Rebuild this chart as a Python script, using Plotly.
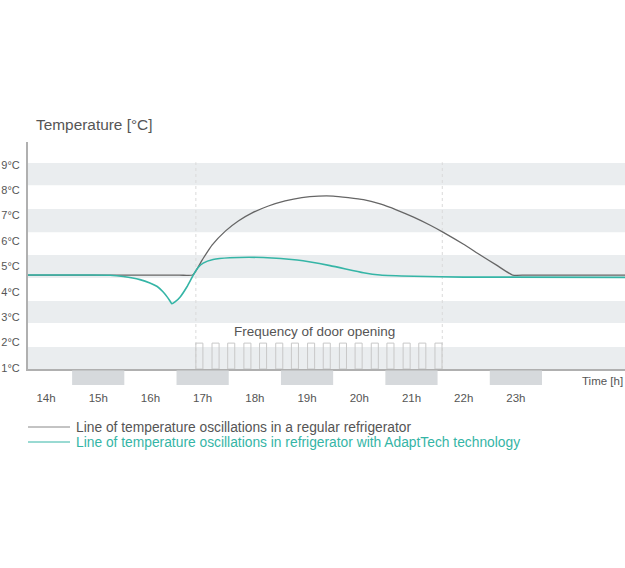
import plotly.graph_objects as go

# ---------------- data ----------------
hour_ticks = [14, 15, 16, 17, 18, 19, 20, 21, 22, 23]
hour_labels = ["14h", "15h", "16h", "17h", "18h", "19h", "20h", "21h", "22h", "23h"]
temp_ticks = [1, 2, 3, 4, 5, 6, 7, 8, 9]
temp_labels = ["1°C", "2°C", "3°C", "4°C", "5°C", "6°C", "7°C", "8°C", "9°C"]

regular_t = [13.65, 16.55, 16.81, 16.99, 17.18, 17.44, 17.69, 17.94, 18.26, 18.58,
             18.90, 19.22, 19.50, 20.08, 20.40, 20.72, 21.04, 21.36, 21.61, 21.99,
             22.31, 22.63, 22.94, 23.20, 25.10]
regular_v = [4.66, 4.66, 4.66, 5.25, 5.84, 6.40, 6.80, 7.10, 7.38, 7.58,
             7.71, 7.77, 7.77, 7.63, 7.46, 7.22, 6.94, 6.62, 6.34, 5.88,
             5.46, 5.05, 4.66, 4.66, 4.66]

adapt_t = [13.65, 14.84, 15.23, 15.48, 15.80, 15.99, 16.13, 16.24, 16.32, 16.38,
           16.41, 16.47, 16.57, 16.70, 16.82, 16.91, 17.01, 17.20, 17.52, 18.16,
           18.81, 19.44, 20.08, 20.40, 21.04, 22.00, 25.10]
adapt_v = [4.66, 4.66, 4.65, 4.60, 4.48, 4.35, 4.21, 4.00, 3.80, 3.62,
           3.53, 3.60, 3.80, 4.20, 4.66, 4.95, 5.13, 5.27, 5.34, 5.35,
           5.25, 5.03, 4.75, 4.66, 4.61, 4.58, 4.57]

door_open_t = [16.87, 17.18, 17.48, 17.79, 18.09, 18.40, 18.70, 19.01,
               19.31, 19.62, 19.92, 20.23, 20.53, 20.84, 21.14, 21.45]
door_open_len = 0.135
door_level = 1.98
door_window = [16.87, 21.59]

band_edges = [(0.96, 1.83), (2.77, 3.64), (4.54, 5.45), (6.35, 7.26), (8.20, 9.07)]
block_centers = [15, 17, 19, 21, 23]

legend_texts = ["Line of temperature oscillations in a regular refrigerator",
                "Line of temperature oscillations in refrigerator with AdaptTech technology"]

# ---------------- style ----------------
W, H = 625, 568
L, R, T, B = 28, 0, 142, 199
X_RANGE = [13.655, 25.09]
Y_RANGE = [0.96, 9.9]
FONT = "Liberation Sans, Arial, sans-serif"
TXT = "#555555"
GRAY_LINE = "#666666"
TEAL = "#35b5a6"
BAND = "#eaedef"
BLOCK = "#d6d9dc"

def px_x(px):
    return (px - L) / (W - L - R)

def px_y(py):
    return (H - B - py) / (H - T - B)

fig = go.Figure()

fig.add_trace(go.Scatter(x=regular_t, y=regular_v, mode="lines",
                         line=dict(color=GRAY_LINE, width=1.3, shape="spline", smoothing=0.5),
                         name=legend_texts[0], showlegend=False, hoverinfo="skip"))
fig.add_trace(go.Scatter(x=adapt_t, y=adapt_v, mode="lines",
                         line=dict(color=TEAL, width=1.6, shape="spline", smoothing=0.5),
                         name=legend_texts[1], showlegend=False, hoverinfo="skip"))

shapes = []
for y0, y1 in band_edges:
    shapes.append(dict(type="rect", xref="paper", yref="y", x0=0, x1=1, y0=y0, y1=y1,
                       fillcolor=BAND, line=dict(width=0), layer="below"))
for xv in door_window:
    shapes.append(dict(type="line", xref="x", yref="y", x0=xv, x1=xv, y0=Y_RANGE[0], y1=9.1,
                       line=dict(color="#dadada", width=1, dash="dot"), layer="below"))
for t in door_open_t:
    shapes.append(dict(type="rect", xref="x", yref="y", x0=t, x1=t + door_open_len,
                       y0=Y_RANGE[0], y1=door_level,
                       line=dict(color="#c8c8c8", width=1), fillcolor="rgba(0,0,0,0)", layer="below"))
for c in block_centers:
    shapes.append(dict(type="rect", xref="x", yref="paper", x0=c - 0.5, x1=c + 0.5,
                       y0=px_y(385), y1=px_y(370.5), fillcolor=BLOCK, line=dict(width=0)))
# legend lines
shapes.append(dict(type="line", xref="paper", yref="paper", x0=px_x(28), x1=px_x(70),
                   y0=px_y(427), y1=px_y(427), line=dict(color="#888888", width=1)))
shapes.append(dict(type="line", xref="paper", yref="paper", x0=px_x(28), x1=px_x(70),
                   y0=px_y(442), y1=px_y(442), line=dict(color=TEAL, width=1)))

annotations = [
    dict(text="Temperature [°C]", xref="paper", yref="paper", x=px_x(34), y=px_y(124),
         xanchor="left", yanchor="middle", showarrow=False, font=dict(size=15.4, color=TXT, family=FONT)),
    dict(text="Frequency of door opening", xref="x", yref="y", x=19.15, y=2.42,
         xanchor="center", yanchor="middle", showarrow=False, font=dict(size=13.5, color=TXT, family=FONT)),
    dict(text="Time [h]", xref="paper", yref="paper", x=1, y=px_y(381),
         xanchor="right", yanchor="middle", showarrow=False, font=dict(size=11.5, color=TXT, family=FONT)),
    dict(text=legend_texts[0], xref="paper", yref="paper", x=px_x(74), y=px_y(427),
         xanchor="left", yanchor="middle", showarrow=False, font=dict(size=13.8, color=TXT, family=FONT)),
    dict(text=legend_texts[1], xref="paper", yref="paper", x=px_x(74), y=px_y(442),
         xanchor="left", yanchor="middle", showarrow=False, font=dict(size=13.8, color=TEAL, family=FONT)),
]

fig.update_layout(
    width=W, height=H, autosize=False,
    margin=dict(l=L, r=R, t=T, b=B, pad=0, autoexpand=False),
    paper_bgcolor="white", plot_bgcolor="white",
    font=dict(family=FONT, color=TXT),
    shapes=shapes, annotations=annotations, showlegend=False,
    xaxis=dict(range=X_RANGE, showgrid=False, zeroline=False, showline=True, automargin=False,
               linecolor="#b0b0b0", linewidth=2, tickvals=hour_ticks, ticktext=hour_labels,
               ticks="outside", ticklen=17, tickcolor="rgba(0,0,0,0)",
               tickfont=dict(size=11.5, color=TXT, family=FONT), fixedrange=True),
    yaxis=dict(range=Y_RANGE, showgrid=False, zeroline=False, showline=True, automargin=False,
               linecolor="#b0b0b0", linewidth=2, tickvals=temp_ticks, ticktext=temp_labels,
               ticks="outside", ticklen=4, tickcolor="rgba(0,0,0,0)",
               tickfont=dict(size=11, color=TXT, family=FONT), fixedrange=True),
)

fig.write_html("out.html", config={"displayModeBar": False},
               post_script="document.body.style.margin='0px';document.body.style.overflow='hidden';")
